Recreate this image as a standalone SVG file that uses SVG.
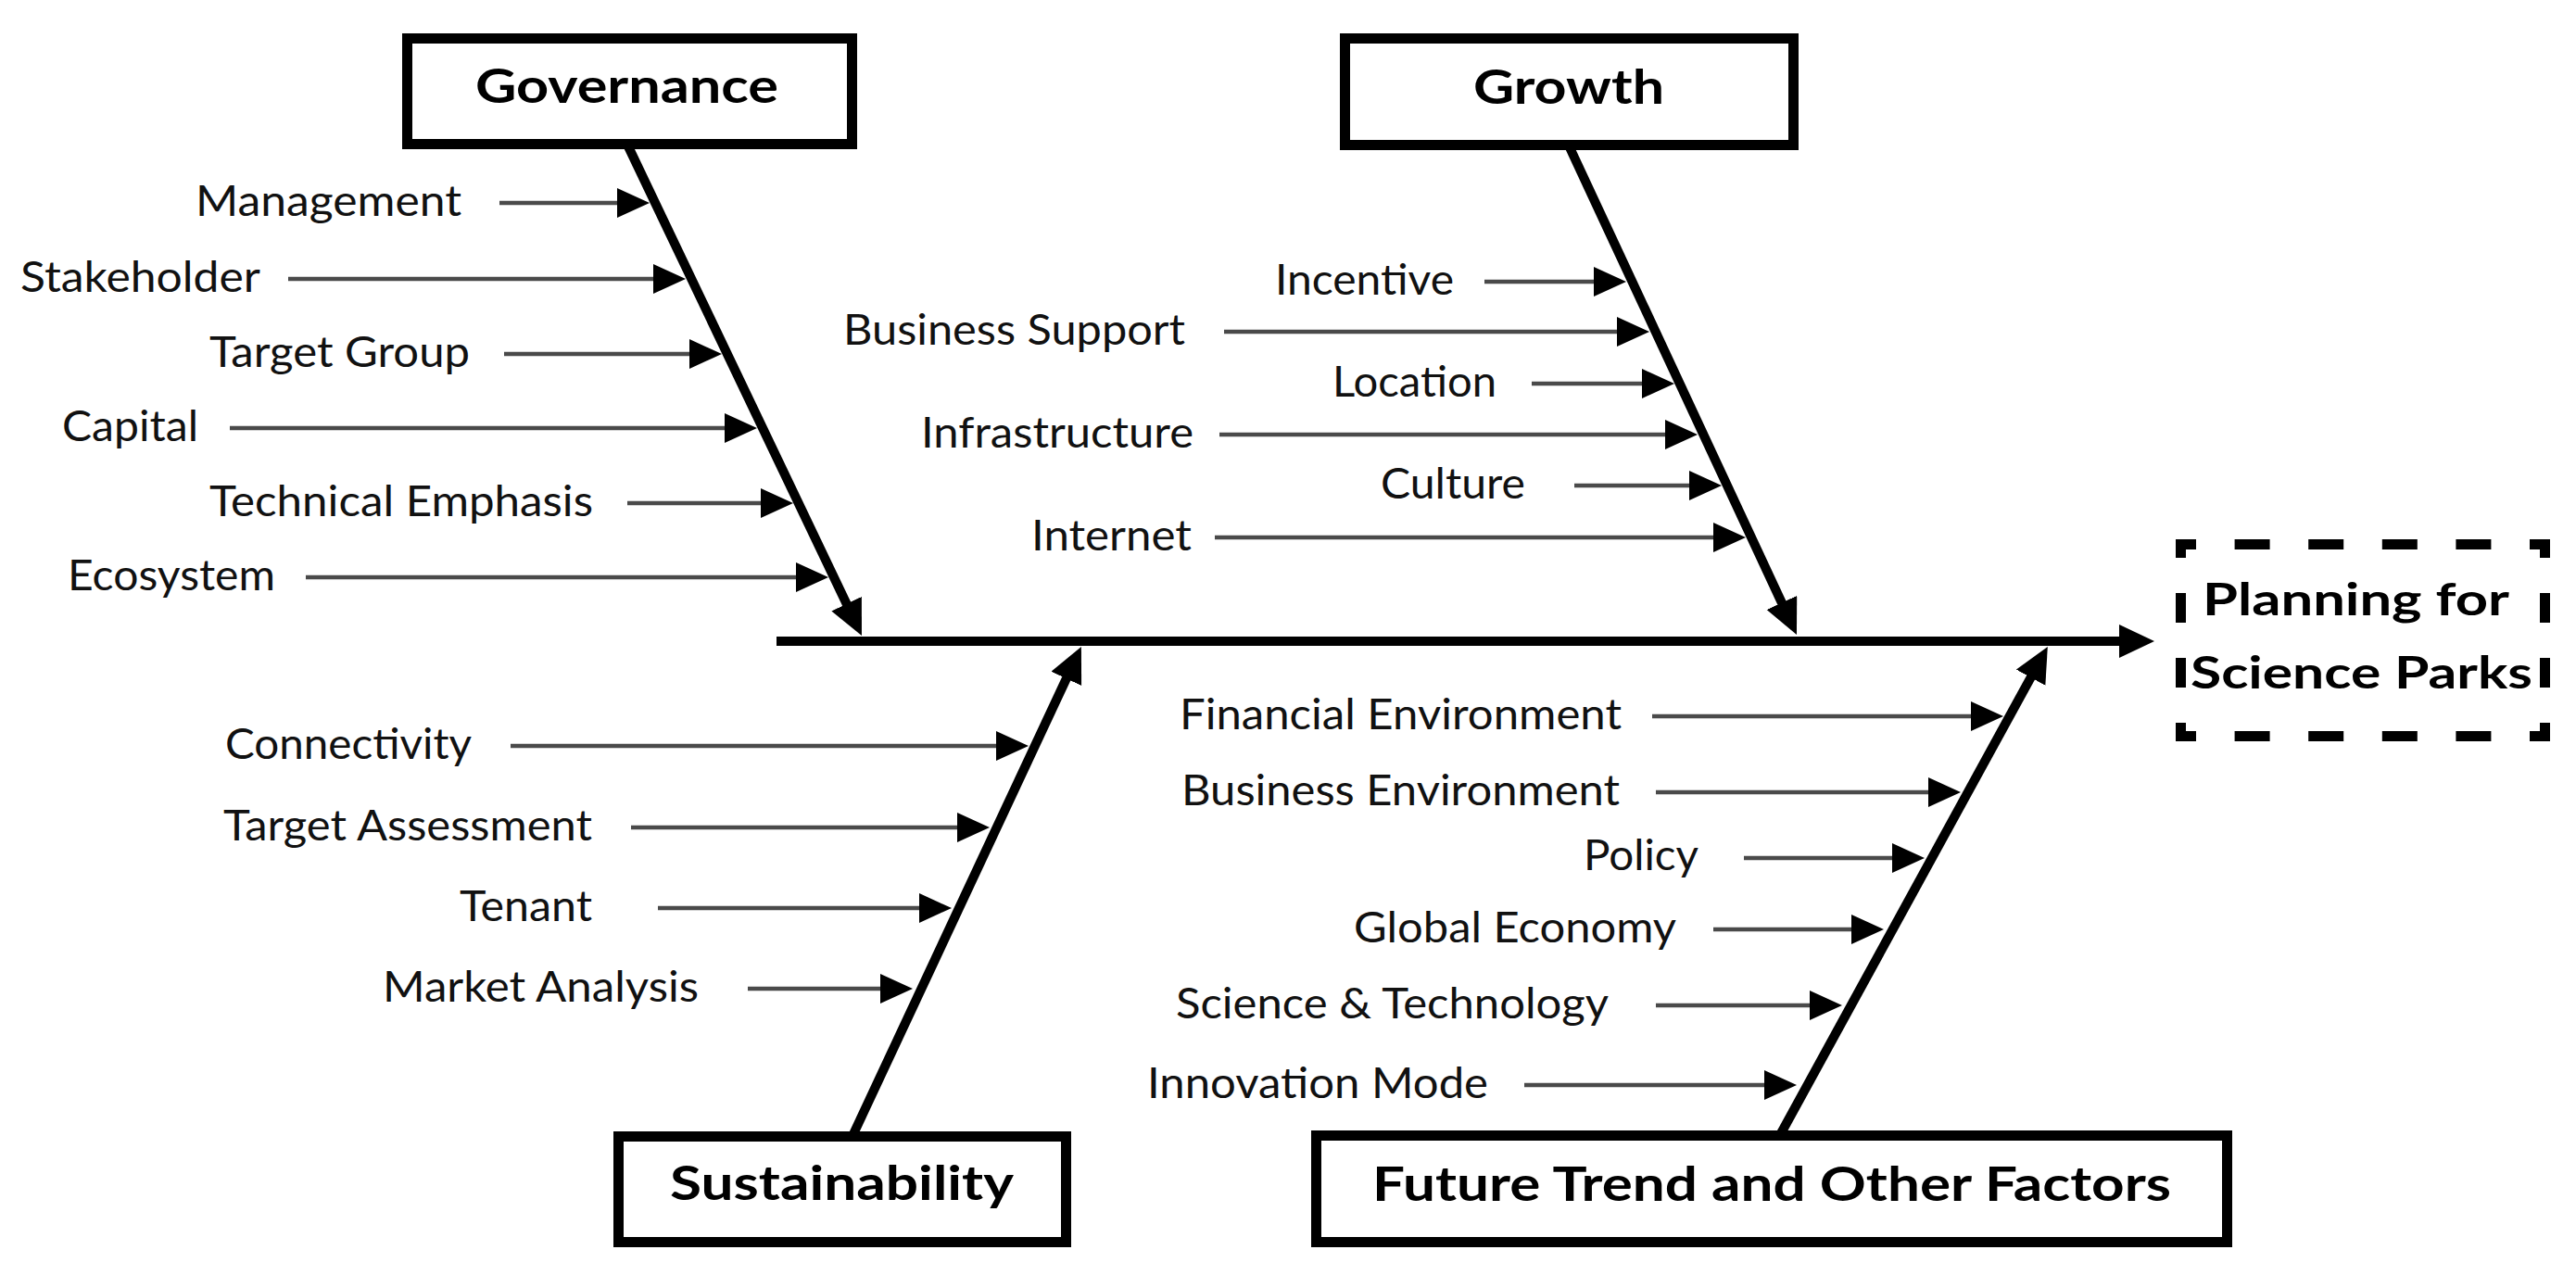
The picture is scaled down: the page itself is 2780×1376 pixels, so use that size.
<svg xmlns="http://www.w3.org/2000/svg" width="2780" height="1376" viewBox="0 0 2780 1376">
<style>
.box{fill:#fff;stroke:#000;stroke-width:11}
.title{font-family:Lato,"Liberation Sans",sans-serif;font-weight:bold;font-size:51px;fill:#000}
.lbl{font-family:Lato,"Liberation Sans",sans-serif;font-size:46px;fill:#111}
.spine{stroke:#000;stroke-width:10;fill:none;marker-end:url(#big)}
.br{stroke:#4a4a4a;stroke-width:4.5;fill:none;marker-end:url(#small)}
.dash{stroke:#000;stroke-width:11;fill:none}
</style>
<defs>
<marker id="big" markerUnits="userSpaceOnUse" markerWidth="40" markerHeight="40" refX="13" refY="18" orient="auto" viewBox="0 0 40 40">
<path d="M0,0 L38,18 L0,36 Z" fill="#000"/>
</marker>
<marker id="small" markerUnits="userSpaceOnUse" markerWidth="36" markerHeight="34" refX="25" refY="16" orient="auto" viewBox="0 0 36 34">
<path d="M0,0 L35,16 L0,32 Z" fill="#000"/>
</marker>
</defs>
<rect width="2780" height="1376" fill="#fff"/>

<g id="connectors">
<line class="spine" x1="838" y1="692" x2="2300" y2="692"/>
<line class="spine" x1="677" y1="156" x2="919.2" y2="663.4"/>
<line class="spine" x1="1693" y1="157" x2="1928.4" y2="662.3"/>
<line class="spine" x1="920" y1="1226" x2="1156.3" y2="720.6"/>
<line class="spine" x1="1921" y1="1225" x2="2197.8" y2="719.8"/>

<line class="br" x1="539" y1="219" x2="691" y2="219"/>
<line class="br" x1="311" y1="301" x2="730" y2="301"/>
<line class="br" x1="544" y1="382" x2="769" y2="382"/>
<line class="br" x1="248" y1="462" x2="807" y2="462"/>
<line class="br" x1="677" y1="543" x2="846" y2="543"/>
<line class="br" x1="330" y1="623" x2="884" y2="623"/>

<line class="br" x1="1602" y1="304" x2="1745" y2="304"/>
<line class="br" x1="1321" y1="358" x2="1770" y2="358"/>
<line class="br" x1="1653" y1="414" x2="1797" y2="414"/>
<line class="br" x1="1316" y1="469" x2="1822" y2="469"/>
<line class="br" x1="1699" y1="524" x2="1848" y2="524"/>
<line class="br" x1="1311" y1="580" x2="1874" y2="580"/>

<line class="br" x1="551" y1="805" x2="1100" y2="805"/>
<line class="br" x1="681" y1="893" x2="1058" y2="893"/>
<line class="br" x1="710" y1="980" x2="1017" y2="980"/>
<line class="br" x1="807" y1="1067" x2="975" y2="1067"/>

<line class="br" x1="1783" y1="773" x2="2152" y2="773"/>
<line class="br" x1="1787" y1="855" x2="2106" y2="855"/>
<line class="br" x1="1882" y1="926" x2="2067" y2="926"/>
<line class="br" x1="1849" y1="1003" x2="2023" y2="1003"/>
<line class="br" x1="1787" y1="1085" x2="1978" y2="1085"/>
<line class="br" x1="1645" y1="1171" x2="1929" y2="1171"/>
</g>

<g id="governance">
<rect class="box" x="439.5" y="41.5" width="480" height="114"/>
<text class="title" x="513" y="111" textLength="327" lengthAdjust="spacingAndGlyphs">Governance</text>
<text class="lbl" x="211" y="233" textLength="287" lengthAdjust="spacingAndGlyphs">Management</text>
<text class="lbl" x="22" y="315" textLength="259" lengthAdjust="spacingAndGlyphs">Stakeholder</text>
<text class="lbl" x="226" y="396" textLength="281" lengthAdjust="spacingAndGlyphs">Target Group</text>
<text class="lbl" x="67" y="476" textLength="147" lengthAdjust="spacingAndGlyphs">Capital</text>
<text class="lbl" x="226" y="557" textLength="414" lengthAdjust="spacingAndGlyphs">Technical Emphasis</text>
<text class="lbl" x="73" y="637" textLength="224" lengthAdjust="spacingAndGlyphs">Ecosystem</text>
</g>

<g id="growth">
<rect class="box" x="1451.5" y="41.5" width="484" height="115"/>
<text class="title" x="1590" y="112" textLength="206" lengthAdjust="spacingAndGlyphs">Growth</text>
<text class="lbl" x="1376" y="318" textLength="193" lengthAdjust="spacingAndGlyphs">Incentive</text>
<text class="lbl" x="910" y="372" textLength="369" lengthAdjust="spacingAndGlyphs">Business Support</text>
<text class="lbl" x="1438" y="428" textLength="177" lengthAdjust="spacingAndGlyphs">Location</text>
<text class="lbl" x="994" y="483" textLength="294" lengthAdjust="spacingAndGlyphs">Infrastructure</text>
<text class="lbl" x="1490" y="538" textLength="156" lengthAdjust="spacingAndGlyphs">Culture</text>
<text class="lbl" x="1113" y="594" textLength="173" lengthAdjust="spacingAndGlyphs">Internet</text>
</g>

<g id="sustainability">
<rect class="box" x="667.5" y="1226.5" width="483" height="114"/>
<text class="title" x="723" y="1295" textLength="371" lengthAdjust="spacingAndGlyphs">Sustainability</text>
<text class="lbl" x="243" y="819" textLength="266" lengthAdjust="spacingAndGlyphs">Connectivity</text>
<text class="lbl" x="241" y="907" textLength="398" lengthAdjust="spacingAndGlyphs">Target Assessment</text>
<text class="lbl" x="496" y="994" textLength="143" lengthAdjust="spacingAndGlyphs">Tenant</text>
<text class="lbl" x="413" y="1081" textLength="341" lengthAdjust="spacingAndGlyphs">Market Analysis</text>
</g>

<g id="future">
<rect class="box" x="1420.5" y="1225.5" width="983" height="115"/>
<text class="title" x="1481" y="1296" textLength="862" lengthAdjust="spacingAndGlyphs">Future Trend and Other Factors</text>
<text class="lbl" x="1273" y="787" textLength="477" lengthAdjust="spacingAndGlyphs">Financial Environment</text>
<text class="lbl" x="1275" y="869" textLength="473" lengthAdjust="spacingAndGlyphs">Business Environment</text>
<text class="lbl" x="1709" y="939" textLength="124" lengthAdjust="spacingAndGlyphs">Policy</text>
<text class="lbl" x="1461" y="1017" textLength="348" lengthAdjust="spacingAndGlyphs">Global Economy</text>
<text class="lbl" x="1269" y="1099" textLength="467" lengthAdjust="spacingAndGlyphs">Science &amp; Technology</text>
<text class="lbl" x="1238" y="1185" textLength="368" lengthAdjust="spacingAndGlyphs">Innovation Mode</text>
</g>

<g id="planning">
<path class="dash" d="M2348,587.5 H2752 M2348,794.5 H2752" stroke-dasharray="22 41.6 38 41.6 38 41.6 38 41.6 38 41.6 22"/>
<path class="dash" d="M2353.5,582 V800 M2746.5,582 V800" stroke-dasharray="20 38 32 38 32 38 20"/>
<text class="title" x="2377" y="664" font-size="48" textLength="331" lengthAdjust="spacingAndGlyphs" style="font-size:48px">Planning for</text>
<text class="title" x="2364" y="743" textLength="369" lengthAdjust="spacingAndGlyphs" style="font-size:48px">Science Parks</text>
</g>
</svg>
